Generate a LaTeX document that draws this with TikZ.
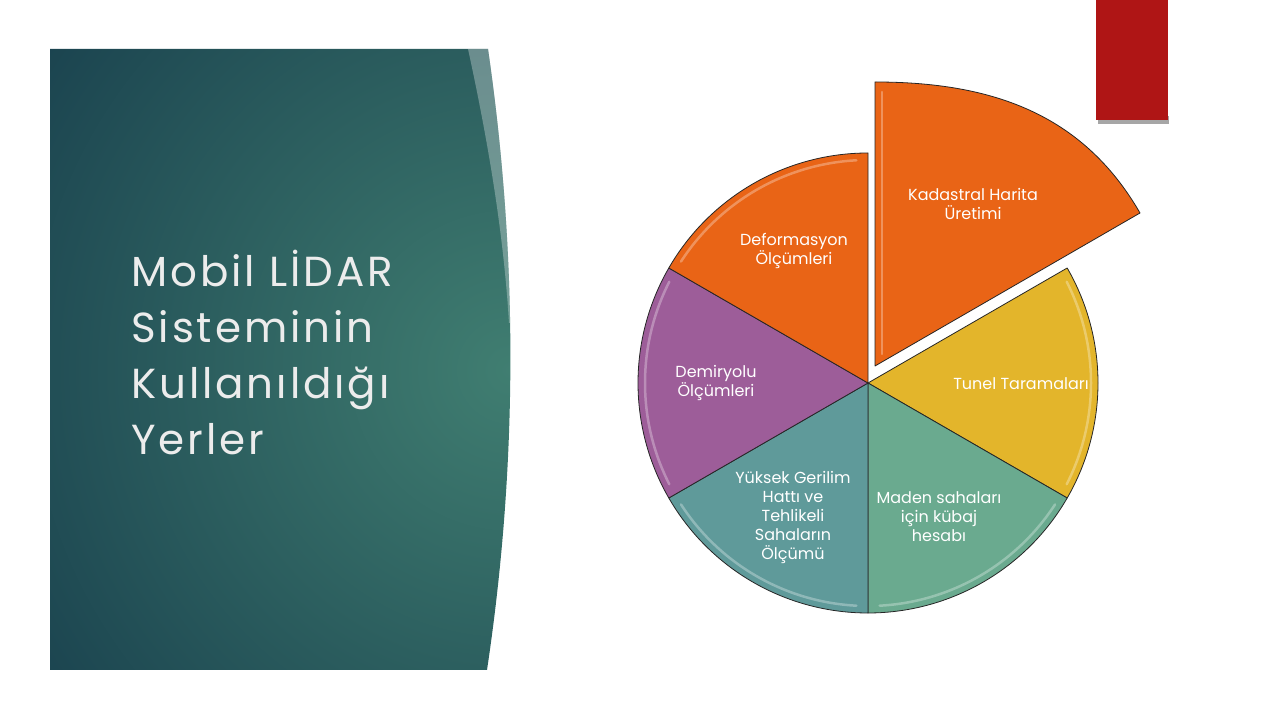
\documentclass[tikz,border=0pt]{standalone}
\usepackage{fontspec}
\setmainfont{Poppins}
\newfontfamily\thinfont{Poppins}
\newfontfamily\titlefont[LetterSpace=7]{Poppins}

\definecolor{panelDark}{RGB}{22,60,75}
\definecolor{panelLight}{RGB}{64,126,113}
\definecolor{titleGray}{RGB}{236,236,236}
\definecolor{redBox}{RGB}{175,21,21}
\definecolor{orangeSlice}{RGB}{233,100,22}
\definecolor{yellowSlice}{RGB}{227,181,43}
\definecolor{greenSlice}{RGB}{106,170,143}
\definecolor{tealSlice}{RGB}{95,154,154}
\definecolor{purpleSlice}{RGB}{157,93,153}

\tikzset{
  slice/.style={draw=black!85, line width=0.8pt, line join=round},
  gloss/.style={draw=white, opacity=0.3, line width=2.5pt, line cap=round},
  slicelabel/.style={text=white, align=center, inner sep=0pt,
    font=\thinfont\fontsize{16}{19}\selectfont},
}

\begin{document}
\begin{tikzpicture}[x=1pt,y=1pt]
  \useasboundingbox (0,0) rectangle (1280,720);
  \fill[white] (0,0) rectangle (1280,720);

  % left panel
  \begin{scope}
    \clip (50,671) -- (488,671) .. controls (518,464) and (518,257) .. (487,50) -- (50,50) -- cycle;
    \shade[inner color=panelLight, outer color=panelDark] (510,350) circle (640pt);
    \fill[white,opacity=0.3] (468,671) .. controls (490,570) and (504,480) .. (509,397)
      -- (560,397) -- (560,671) -- cycle;
  \end{scope}
  \node[anchor=north west, align=left, inner sep=0pt, text=titleGray,
    font=\titlefont\fontsize{42}{56}\selectfont] (title) at (131,470)
    {Mobil LİDAR\\Sisteminin\\Kullanıldığı\\Yerler};

  % red box
  \fill[black!35] (1098,596) rectangle (1169,604);
  \fill[redBox] (1096,600) rectangle (1168,720);

  % pie
  \coordinate (pc) at (868,337);
  \filldraw[slice, fill=yellowSlice] (pc) -- ++(30:230pt) arc[start angle=30, end angle=-30, radius=230pt] -- cycle;
  \filldraw[slice, fill=greenSlice] (pc) -- ++(-30:230pt) arc[start angle=-30, end angle=-90, radius=230pt] -- cycle;
  \filldraw[slice, fill=tealSlice] (pc) -- ++(-90:230pt) arc[start angle=-90, end angle=-150, radius=230pt] -- cycle;
  \filldraw[slice, fill=purpleSlice] (pc) -- ++(210:230pt) arc[start angle=210, end angle=150, radius=230pt] -- cycle;
  \filldraw[slice, fill=orangeSlice] (pc) -- ++(150:230pt) arc[start angle=150, end angle=90, radius=230pt] -- cycle;
  \draw[gloss] (pc) ++(27:223pt) arc[start angle=27, end angle=-27, radius=223pt];
  \draw[gloss] (pc) ++(-33:223pt) arc[start angle=-33, end angle=-87, radius=223pt];
  \draw[gloss] (pc) ++(-93:223pt) arc[start angle=-93, end angle=-147, radius=223pt];
  \draw[gloss] (pc) ++(207:223pt) arc[start angle=207, end angle=153, radius=223pt];
  \draw[gloss] (pc) ++(147:223pt) arc[start angle=147, end angle=93, radius=223pt];

  % exploded slice
  \coordinate (kc) at (875,354);
  \coordinate (ktop) at (875,638);
  \coordinate (ktip) at (1140,507);
  \filldraw[slice, fill=orangeSlice] (kc) -- (ktop) to[out=0, in=120] (ktip) -- cycle;
  \draw[gloss] (882,366) -- (882,628);

  % labels
  \node[slicelabel] (kadastral) at (973,516) {Kadastral Harita\\Üretimi};
  \node[slicelabel] (deform) at (794,469) {Deformasyon\\Ölçümleri};
  \node[slicelabel] (demiryolu) at (716,337) {Demiryolu\\Ölçümleri};
  \node[slicelabel] (tunel) at (1021,336) {Tunel Taramaları};
  \node[slicelabel] (maden) at (939,203) {Maden sahaları\\için  kübaj\\hesabı};
  \node[slicelabel] (yuksek) at (793,203) {Yüksek Gerilim\\Hattı ve\\Tehlikeli\\Sahaların\\Ölçümü};
\end{tikzpicture}
\end{document}
